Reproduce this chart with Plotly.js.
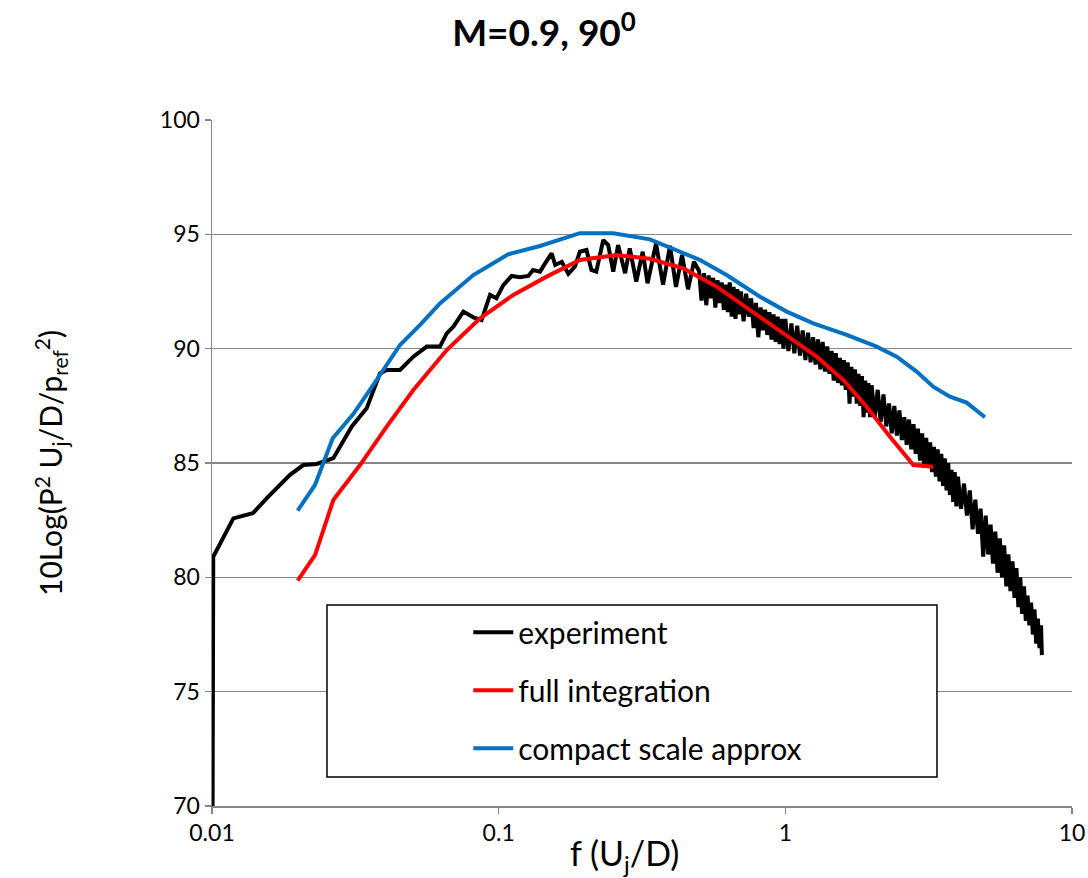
<!DOCTYPE html>
<html>
<head>
<meta charset="utf-8">
<script src="https://cdn.plot.ly/plotly-3.0.1.min.js"></script>
<style>html,body{margin:0;padding:0;background:#fff;}#chart{width:1088px;height:878px;}</style>
</head>
<body>
<div id="chart"></div>
<script>
// experiment
const expF = [0.01, 0.0101, 0.01187, 0.01387, 0.01572, 0.01871, 0.02083, 0.0232, 0.0265, 0.0307, 0.03463, 0.03855, 0.04067, 0.04527, 0.0504, 0.0561, 0.0624, 0.0659, 0.0695, 0.0753, 0.0816, 0.0872, 0.0933, 0.0982, 0.1038, 0.111, 0.1186, 0.1269, 0.1318, 0.1394, 0.1452, 0.153, 0.1575, 0.166, 0.175, 0.1845, 0.192, 0.2025, 0.2106, 0.219, 0.2317, 0.241, 0.251, 0.261, 0.276, 0.2866, 0.302, 0.318, 0.3307,
  0.3539, 0.3745, 0.3960, 0.4155, 0.4362, 0.4576, 0.4801,
  0.50, 0.51, 0.52, 0.53, 0.54, 0.55, 0.56, 0.57, 0.58, 0.59, 0.60, 0.61, 0.62, 0.63, 0.64, 0.65, 0.66, 0.67, 0.68, 0.69,
  0.700, 0.715, 0.730, 0.745, 0.760, 0.775, 0.790, 0.805, 0.820, 0.835, 0.850, 0.865, 0.880, 0.895, 0.910, 0.925, 0.940, 0.955, 0.970, 0.985,
  1.000, 1.025, 1.050, 1.075, 1.100, 1.125, 1.150, 1.175, 1.200, 1.225, 1.250, 1.275, 1.300, 1.325, 1.350, 1.375, 1.400, 1.425, 1.450, 1.475,
  1.500, 1.525, 1.550, 1.575, 1.600, 1.625, 1.650, 1.675, 1.700, 1.725, 1.750, 1.775, 1.800, 1.825, 1.850, 1.875, 1.900, 1.925, 1.950, 1.975,
  2.00, 2.05, 2.10, 2.15, 2.20, 2.25, 2.30, 2.35, 2.40, 2.45, 2.50, 2.55, 2.60, 2.65, 2.70, 2.75, 2.80, 2.85, 2.90, 2.95,
  3.00, 3.05, 3.10, 3.15, 3.20, 3.25, 3.30, 3.35, 3.40, 3.45, 3.50, 3.55, 3.60, 3.65, 3.70, 3.75, 3.80, 3.85, 3.90, 3.95,
  4.0, 4.1, 4.2, 4.3, 4.4, 4.5, 4.6, 4.7, 4.8, 4.9, 5.0, 5.1, 5.2, 5.3, 5.4, 5.5, 5.6, 5.7, 5.8, 5.9,
  6.0, 6.1, 6.2, 6.3, 6.4, 6.5, 6.6, 6.7, 6.8, 6.9, 7.0, 7.1, 7.2, 7.3, 7.4, 7.5, 7.6, 7.7, 7.8, 7.85];
const expL = [60, 80.9, 82.58, 82.8, 83.53, 84.48, 84.91, 84.96, 85.21, 86.59, 87.39, 88.92, 89.07, 89.07, 89.65, 90.09, 90.09, 90.67, 90.96, 91.62, 91.37, 91.25, 92.35, 92.2, 92.78, 93.18, 93.12, 93.18, 93.44, 93.37, 93.73, 94.17, 93.66, 93.8, 93.27, 93.59, 94.24, 94.32, 93.44, 93.37, 94.75, 94.53, 93.37, 94.53, 93.3, 94.39, 92.93, 94.24, 92.86,
  94.6, 92.8, 94.5, 92.7, 94.1, 92.6, 93.8,
  93.4, 92.1, 93.3, 91.9, 93.2, 92.2, 93.1, 91.8, 93.0, 92.0, 92.9, 91.7, 92.8, 91.6, 92.9, 91.4, 92.7, 91.3, 92.6, 91.5,
  92.5, 91.2, 92.4, 91.4, 92.2, 90.9, 92.0, 90.5, 91.8, 90.8, 91.7, 90.6, 91.6, 90.4, 91.5, 90.3, 91.4, 90.2, 91.3, 90.0,
  91.3, 89.9, 91.1, 89.8, 91.0, 89.7, 90.8, 89.5, 90.7, 89.4, 90.5, 89.3, 90.4, 89.1, 90.3, 89.0, 90.1, 88.9, 89.9, 88.6,
  89.8, 88.5, 89.6, 88.4, 89.5, 88.2, 89.4, 87.6, 89.2, 87.9, 89.1, 87.6, 88.9, 87.5, 88.8, 87.0, 88.6, 87.2, 88.5, 87.0,
  88.4, 87.0, 88.2, 86.8, 88.0, 86.6, 87.6, 86.3, 87.5, 86.2, 87.3, 86.0, 87.0, 85.8, 86.9, 85.6, 86.7, 85.4, 86.5, 85.1,
  86.3, 84.9, 86.1, 84.8, 85.9, 84.6, 85.7, 84.4, 85.6, 84.2, 85.4, 84.0, 85.2, 83.8, 85.0, 83.6, 84.7, 83.3, 84.6, 83.1,
  84.4, 83.0, 84.1, 82.7, 83.8, 82.1, 83.4, 81.9, 83.0, 80.9, 82.7, 81.0, 82.3, 80.6, 82.0, 80.2, 81.7, 80.0, 81.4, 79.6,
  81.0, 79.4, 80.7, 79.1, 80.4, 78.7, 80.0, 78.4, 79.6, 78.1, 79.2, 77.9, 78.9, 77.5, 78.6, 77.1, 78.2, 76.9, 77.9, 76.6];

// full integration
const fullF = [0.0199, 0.0229, 0.0265, 0.03283, 0.04067, 0.05039, 0.0659, 0.0861, 0.1125, 0.147, 0.192, 0.258, 0.337, 0.4406, 0.576, 0.753, 0.984, 1.286, 1.593, 1.922, 2.317, 2.796, 3.28];
const fullL = [79.86, 80.98, 83.38, 84.91, 86.59, 88.19, 89.94, 91.33, 92.35, 93.15, 93.88, 94.1, 93.93, 93.51, 92.71, 91.69, 90.67, 89.65, 88.63, 87.46, 86.15, 84.91, 84.84];

// compact scale approx
const compF = [0.0199, 0.02287, 0.02637, 0.0311, 0.03754, 0.04527, 0.0532, 0.0624, 0.0816, 0.108, 0.1394, 0.192, 0.251, 0.337, 0.504, 0.624, 0.816, 1.011, 1.252, 1.637, 2.083, 2.446, 2.871, 3.28, 3.75, 4.29, 4.97];
const compL = [82.92, 84.04, 86.08, 87.14, 88.63, 90.16, 91.04, 91.98, 93.22, 94.13, 94.49, 95.05, 95.05, 94.78, 93.88, 93.22, 92.27, 91.62, 91.11, 90.6, 90.09, 89.65, 89.0, 88.34, 87.9, 87.64, 87.0];

const xTicks = [0.01, 0.1, 1, 10];
const xTickText = ['0.01', '0.1', '1', '10'];
const yTicks = [70, 75, 80, 85, 90, 95, 100];

const txtFont = 'Lato, "Open Sans", sans-serif';

const traces = [
  {x: expF, y: expL, name: 'experiment', type: 'scatter', mode: 'lines', legendgroup: 'a',
   line: {color: '#000000', width: 4}},
  {x: fullF, y: fullL, name: 'full integration', type: 'scatter', mode: 'lines', legendgroup: 'b',
   line: {color: '#FF0000', width: 4}},
  {x: compF, y: compL, name: 'compact scale approx', type: 'scatter', mode: 'lines', legendgroup: 'c',
   line: {color: '#0070C0', width: 4}}
];

const layout = {
  width: 1088, height: 878,
  margin: {l: 212, r: 16, t: 120, b: 72},
  paper_bgcolor: '#ffffff', plot_bgcolor: '#ffffff',
  showlegend: true,
  title: {text: '<b>M=0.9, 90<sup>0</sup></b>', x: 0.5, xanchor: 'center', y: 0.962, yanchor: 'middle',
          font: {family: txtFont, size: 37, color: '#000'}},
  xaxis: {
    type: 'log', range: [-2, 1], tickvals: xTicks, ticktext: xTickText,
    showgrid: false, zeroline: false, showline: true, linecolor: '#868686', linewidth: 1.5,
    ticks: 'outside', ticklen: 6, tickcolor: '#868686', tickwidth: 1.5,
    tickfont: {family: txtFont, size: 23, color: '#000'}
  },
  yaxis: {
    range: [70, 100], tickvals: yTicks, showgrid: true, gridcolor: '#868686', gridwidth: 1.5,
    zeroline: false, showline: true, linecolor: '#868686', linewidth: 1.5,
    ticks: 'outside', ticklen: 6, tickcolor: '#868686', tickwidth: 1.5,
    tickfont: {family: txtFont, size: 23, color: '#000'},
    title: {text: '10Log(P<sup>2</sup> U<sub>j</sub>/D/p<sub>ref</sub><sup>2</sup>)', font: {family: txtFont, size: 30, color: '#000'}, standoff: 88}
  },
  annotations: [
    {text: 'f (U<sub>j</sub>/D)', xref: 'paper', yref: 'paper', x: 0.48, y: -0.072, xanchor: 'center', yanchor: 'middle',
     showarrow: false, font: {family: txtFont, size: 34, color: '#000'}}
  ],
  legend: {
    x: 0.298, y: 0.291, xanchor: 'left', yanchor: 'top',
    bgcolor: 'rgba(0,0,0,0)', borderwidth: 0,
    traceorder: 'grouped', tracegroupgap: 16,
    font: {family: txtFont, size: 30, color: '#000'},
    itemwidth: 40
  },
  shapes: [
    {type: 'rect', xref: 'paper', yref: 'paper', x0: 0.1337, x1: 0.843, y0: 0.0423, y1: 0.293,
     line: {color: '#000', width: 1.5}, fillcolor: '#ffffff', layer: 'above'}
  ]
};

Plotly.newPlot('chart', traces, layout, {displayModeBar: false, staticPlot: true});
</script>
</body>
</html>
